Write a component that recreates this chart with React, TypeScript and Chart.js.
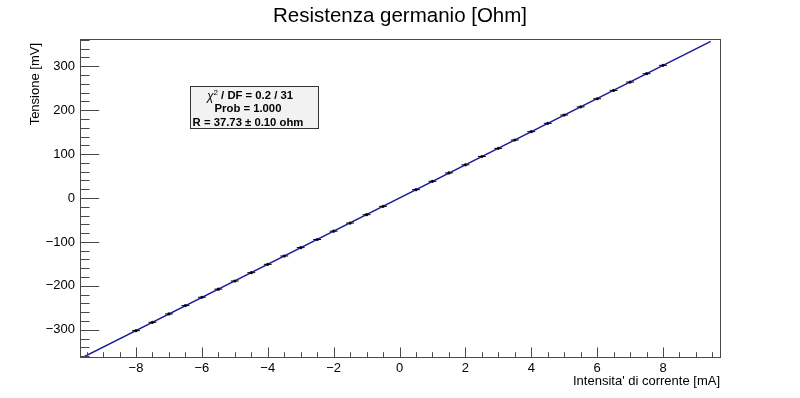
import React, { useEffect, useRef } from "react";
import { Chart, registerables } from "chart.js";

Chart.register(...registerables);

const currentMA = [
  -8, -7.5, -7, -6.5, -6, -5.5, -5, -4.5, -4, -3.5, -3, -2.5, -2, -1.5, -1, -0.5,
  0.5, 1, 1.5, 2, 2.5, 3, 3.5, 4, 4.5, 5, 5.5, 6, 6.5, 7, 7.5, 8,
];
const voltageMV = [
  -302, -283, -264, -245, -226, -207.5, -189, -170, -151, -132, -113, -94.5, -75.5, -57, -38, -19,
  19, 38, 57, 75.5, 94.5, 113, 132, 151, 170, 189, 207.5, 226, 245, 264, 283, 302,
];
const currentErr = [
  0.12, 0.12, 0.12, 0.12, 0.12, 0.12, 0.12, 0.12, 0.12, 0.12, 0.12, 0.12, 0.12, 0.12, 0.12, 0.12,
  0.12, 0.12, 0.12, 0.12, 0.12, 0.12, 0.12, 0.12, 0.12, 0.12, 0.12, 0.12, 0.12, 0.12, 0.12, 0.12,
];
const voltageErr = [
  1.5, 1.5, 1.5, 1.5, 1.5, 1.5, 1.5, 1.5, 1.5, 1.5, 1.5, 1.5, 1.5, 1.5, 1.5, 1.5,
  1.5, 1.5, 1.5, 1.5, 1.5, 1.5, 1.5, 1.5, 1.5, 1.5, 1.5, 1.5, 1.5, 1.5, 1.5, 1.5,
];
const fitX = [-9.75, 9.45];
const fitY = [-367.9, 356.5];

const titleText = "Resistenza germanio [Ohm]";
const xTitle = "Intensita' di corrente [mA]";
const yTitle = "Tensione [mV]";
const statsLines = ["/ DF = 0.2 / 31", "Prob = 1.000", "R = 37.73 \u00b1 0.10 ohm"];

const FONT = '"Liberation Sans", Arial, Helvetica, sans-serif';
const AXIS_COLOR = "#4a4a4a";

const fmt = (v: number) => {
  const s = String(Math.round(v * 100) / 100);
  return s.replace("-", "\u2212");
};

const decorPlugin = {
  id: "rootDecor",
  afterDatasetsDraw(chart: any) {
    const { ctx, scales } = chart;
    const xs = scales.x;
    const ys = scales.y;
    ctx.save();
    ctx.strokeStyle = "#000";
    ctx.lineWidth = 1;
    for (let i = 0; i < currentMA.length; i++) {
      const px = xs.getPixelForValue(currentMA[i]);
      const py = ys.getPixelForValue(voltageMV[i]);
      const x1 = xs.getPixelForValue(currentMA[i] - currentErr[i]);
      const x2 = xs.getPixelForValue(currentMA[i] + currentErr[i]);
      const y1 = ys.getPixelForValue(voltageMV[i] - voltageErr[i]);
      const y2 = ys.getPixelForValue(voltageMV[i] + voltageErr[i]);
      ctx.beginPath();
      ctx.moveTo(x1, py);
      ctx.lineTo(x2, py);
      ctx.moveTo(px, y1);
      ctx.lineTo(px, y2);
      ctx.stroke();
    }
    ctx.restore();
  },
  afterDraw(chart: any) {
    const { ctx, chartArea, scales } = chart;
    const { left, right, top, bottom } = chartArea;
    const xs = scales.x;
    const ys = scales.y;
    ctx.save();
    ctx.strokeStyle = AXIS_COLOR;
    ctx.lineWidth = 1;
    ctx.strokeRect(Math.round(left) + 0.5, Math.round(top) + 0.5, Math.round(right - left), Math.round(bottom - top));
    const h = bottom - top;
    const w = right - left;
    const xMajLen = 0.03 * h;
    const yMajLen = 0.03 * w;
    ctx.beginPath();
    for (let k = -40; k <= 40; k++) {
      const v = k * 0.5;
      if (v < xs.min || v > xs.max) continue;
      const px = Math.round(xs.getPixelForValue(v)) + 0.5;
      const len = k % 4 === 0 ? xMajLen : xMajLen / 2;
      ctx.moveTo(px, bottom);
      ctx.lineTo(px, bottom - len);
    }
    for (let k = -40; k <= 40; k++) {
      const v = k * 20;
      if (v < ys.min || v > ys.max) continue;
      const py = Math.round(ys.getPixelForValue(v)) + 0.5;
      const len = k % 5 === 0 ? yMajLen : yMajLen / 2;
      ctx.moveTo(left, py);
      ctx.lineTo(left + len, py);
    }
    ctx.stroke();

    ctx.fillStyle = "#000";
    ctx.font = `20.5px ${FONT}`;
    ctx.textAlign = "center";
    ctx.textBaseline = "middle";
    ctx.fillText(titleText, 400, 16);

    ctx.font = `13px ${FONT}`;
    ctx.textAlign = "right";
    ctx.textBaseline = "middle";
    ctx.fillText(xTitle, right, 381);

    ctx.save();
    ctx.translate(35, top + 4);
    ctx.rotate(-Math.PI / 2);
    ctx.textAlign = "right";
    ctx.textBaseline = "middle";
    ctx.fillText(yTitle, 0, 0);
    ctx.restore();

    const bx = 190, by = 86, bw = 128, bh = 42;
    ctx.fillStyle = "#f2f2f2";
    ctx.fillRect(bx, by, bw, bh);
    ctx.strokeStyle = "#333";
    ctx.strokeRect(bx + 0.5, by + 0.5, bw, bh);
    ctx.fillStyle = "#000";
    ctx.textBaseline = "middle";
    ctx.textAlign = "left";
    const cx = 250;
    const boldF = `bold 11.3px ${FONT}`;
    const chiF = `italic 12px ${FONT}`;
    const supF = `8px ${FONT}`;
    ctx.font = chiF;
    const wChi = ctx.measureText("\u03c7").width;
    ctx.font = supF;
    const wSup = ctx.measureText("2").width;
    ctx.font = boldF;
    const wRest = ctx.measureText(" " + statsLines[0]).width;
    let sx = cx - (wChi + wSup + wRest) / 2;
    const ly1 = 95.5;
    ctx.font = chiF;
    ctx.fillText("\u03c7", sx, ly1 + 1);
    sx += wChi;
    ctx.font = supF;
    ctx.fillText("2", sx, ly1 - 3);
    sx += wSup;
    ctx.font = boldF;
    ctx.fillText(" " + statsLines[0], sx, ly1);
    ctx.textAlign = "center";
    ctx.fillText(statsLines[1], cx - 2, 109);
    ctx.fillText(statsLines[2], cx - 2, 122.5);
    ctx.restore();
  },
};

export default function App() {
  const ref = useRef<HTMLCanvasElement | null>(null);
  useEffect(() => {
    if (!ref.current) return;
    const chart = new Chart(ref.current, {
      type: "scatter",
      data: {
        datasets: [
          {
            type: "scatter",
            label: "data",
            data: currentMA.map((x, i) => ({ x, y: voltageMV[i] })),
            pointRadius: 1.6,
            pointBackgroundColor: "#000",
            pointBorderWidth: 0,
            order: 2,
          },
          {
            type: "line",
            label: "fit",
            data: fitX.map((x, i) => ({ x, y: fitY[i] })),
            borderColor: "#1a1a9a",
            borderWidth: 1.5,
            pointRadius: 0,
            fill: false,
            order: 1,
          },
        ],
      } as any,
      options: {
        animation: false,
        responsive: false,
        layout: { padding: { left: 0, right: 80, top: 39, bottom: 0 } },
        plugins: {
          legend: { display: false },
          tooltip: { enabled: false },
          title: { display: false },
        },
        scales: {
          x: {
            type: "linear",
            min: -9.7,
            max: 9.73,
            afterFit: (s: any) => {
              s.height = 41;
            },
            grid: { display: false, drawTicks: false },
            border: { display: false },
            ticks: {
              stepSize: 2,
              includeBounds: false,
              autoSkip: false,
              maxRotation: 0,
              padding: 4,
              color: "#000",
              font: { family: FONT, size: 13 },
              callback: (v: any) => fmt(Number(v)),
            },
          },
          y: {
            type: "linear",
            min: -362,
            max: 362,
            afterFit: (s: any) => {
              s.width = 80;
            },
            grid: { display: false, drawTicks: false },
            border: { display: false },
            ticks: {
              stepSize: 100,
              includeBounds: false,
              autoSkip: false,
              padding: 5,
              color: "#000",
              font: { family: FONT, size: 13 },
              callback: (v: any) => fmt(Number(v)),
            },
          },
        },
      } as any,
      plugins: [decorPlugin],
    });
    return () => chart.destroy();
  }, []);
  return (
    <div style={{ position: "absolute", left: 0, top: 0, width: 800, height: 398, background: "#fff" }}>
      <canvas ref={ref} width={800} height={398} style={{ display: "block" }} />
    </div>
  );
}
